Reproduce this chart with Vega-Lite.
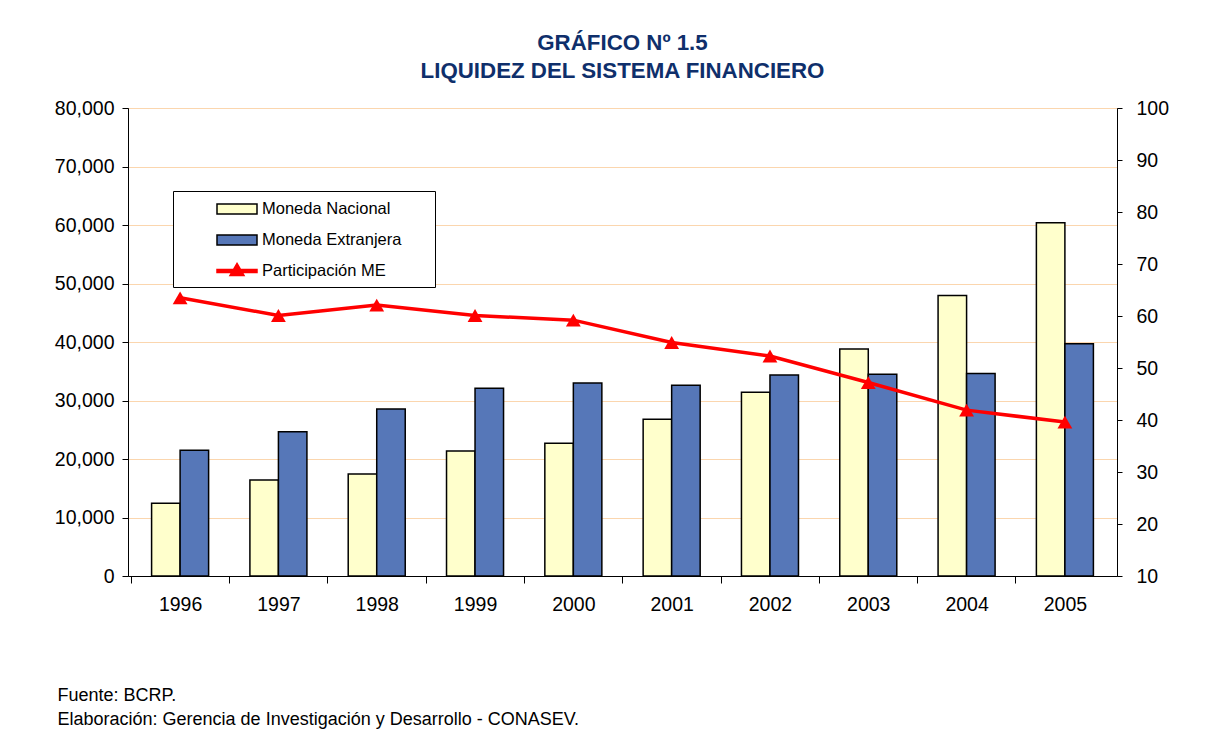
{
  "$schema": "https://vega.github.io/schema/vega-lite/v6.json",
  "autosize": {"type": "none"},
  "width": 989,
  "height": 468,
  "padding": {"left": 128, "top": 108, "right": 93, "bottom": 164},
  "background": "white",
  "config": {
    "font": "Liberation Sans",
    "view": {"stroke": "#333333", "strokeWidth": 1},
    "axis": {"labelFont": "Liberation Sans", "labelColor": "black", "domainColor": "black", "tickColor": "black", "labelFontSize": 19.5},
    "legend": {"orient": "none", "legendX": 45, "legendY": 83, "padding": 7, "rowPadding": 11, "symbolSize": 400, "symbolOffset": 46, "labelOffset": 14, "labelFont": "Liberation Sans", "labelFontSize": 16.5, "labelColor": "black", "labelLimit": 400, "strokeColor": "black", "fillColor": "white", "symbolStrokeWidth": 1.5, "symbolOpacity": 1, "titleOrient": "right", "titleFontSize": 16.5, "titlePadding": 27}
  },
  "title": {
    "text": ["GRÁFICO Nº 1.5", "LIQUIDEZ DEL SISTEMA FINANCIERO"],
    "font": "Liberation Sans",
    "fontSize": 22.3,
    "fontWeight": "bold",
    "color": "#0F2F6B",
    "lineHeight": 28,
    "anchor": "middle",
    "frame": "group",
    "baseline": "bottom",
    "offset": -7
  },
  "datasets": {
    "bars": [
      {"year": "1996", "serie": "Moneda Nacional", "value": 12450},
      {"year": "1996", "serie": "Moneda Extranjera", "value": 21500},
      {"year": "1997", "serie": "Moneda Nacional", "value": 16400},
      {"year": "1997", "serie": "Moneda Extranjera", "value": 24650},
      {"year": "1998", "serie": "Moneda Nacional", "value": 17450},
      {"year": "1998", "serie": "Moneda Extranjera", "value": 28550},
      {"year": "1999", "serie": "Moneda Nacional", "value": 21350},
      {"year": "1999", "serie": "Moneda Extranjera", "value": 32100},
      {"year": "2000", "serie": "Moneda Nacional", "value": 22700},
      {"year": "2000", "serie": "Moneda Extranjera", "value": 33000},
      {"year": "2001", "serie": "Moneda Nacional", "value": 26800},
      {"year": "2001", "serie": "Moneda Extranjera", "value": 32600},
      {"year": "2002", "serie": "Moneda Nacional", "value": 31400},
      {"year": "2002", "serie": "Moneda Extranjera", "value": 34350},
      {"year": "2003", "serie": "Moneda Nacional", "value": 38800},
      {"year": "2003", "serie": "Moneda Extranjera", "value": 34500},
      {"year": "2004", "serie": "Moneda Nacional", "value": 47950},
      {"year": "2004", "serie": "Moneda Extranjera", "value": 34600},
      {"year": "2005", "serie": "Moneda Nacional", "value": 60400},
      {"year": "2005", "serie": "Moneda Extranjera", "value": 39700}
    ],
    "share": [
      {"year": "1996", "pct": 63.5},
      {"year": "1997", "pct": 60.1},
      {"year": "1998", "pct": 62.1},
      {"year": "1999", "pct": 60.1},
      {"year": "2000", "pct": 59.2},
      {"year": "2001", "pct": 54.9},
      {"year": "2002", "pct": 52.3},
      {"year": "2003", "pct": 47.2},
      {"year": "2004", "pct": 41.9},
      {"year": "2005", "pct": 39.6}
    ]
  },
  "encoding": {
    "x": {
      "field": "year",
      "type": "nominal",
      "scale": {"paddingInner": 0.42, "paddingOuter": 0.24},
      "axis": {
        "labelAngle": 0,
        "tickSize": 7,
        "labelPadding": 12,
        "tickOffset": -49.45,
        "labelOffset": 49.45,
        "grid": false,
        "title": ["Fuente: BCRP.", "Elaboración: Gerencia de Investigación y Desarrollo - CONASEV."],
        "titleFont": "Liberation Sans",
        "titleFontSize": 18,
        "titleFontWeight": "normal",
        "titleColor": "black",
        "titleAnchor": "start",
        "titleAlign": "left",
        "titleBaseline": "alphabetic",
        "titleX": -71,
        "titleY": 124,
        "titleLineHeight": 24
      }
    }
  },
  "layer": [
    {
      "data": {"name": "bars"},
      "transform": [{"filter": "false"}],
      "mark": {"type": "point", "filled": true, "opacity": 1},
      "encoding": {
        "color": {
          "field": "serie",
          "type": "nominal",
          "scale": {"domain": ["Moneda Nacional", "Moneda Extranjera", "Participación ME"], "range": ["#FFFFCC", "#5677B8", "#FF0000"]},
          "legend": {"title": "\u00a0"}
        },
        "shape": {
          "field": "serie",
          "type": "nominal",
          "scale": {"domain": ["Moneda Nacional", "Moneda Extranjera", "Participación ME"], "range": ["M-2,-0.5H2V0.5H-2Z", "M-2,-0.5H2V0.5H-2Z", "M-2,-0.15H2V0.15H-2Z M0,-0.75L0.7,0.45H-0.7Z"]},
          "legend": {"title": "\u00a0"}
        },
        "stroke": {
          "field": "serie",
          "type": "nominal",
          "scale": {"domain": ["Moneda Nacional", "Moneda Extranjera", "Participación ME"], "range": ["black", "black", "#FF0000"]},
          "legend": {"title": "\u00a0"}
        }
      }
    },
    {
      "data": {"name": "bars"},
      "mark": {"type": "bar", "stroke": "black", "strokeWidth": 1.5, "opacity": 1},
      "encoding": {
        "xOffset": {"field": "serie", "type": "nominal", "scale": {"domain": ["Moneda Nacional", "Moneda Extranjera"], "paddingInner": 0, "paddingOuter": 0}},
        "y": {
          "field": "value",
          "type": "quantitative",
          "scale": {"domain": [0, 80000], "nice": false},
          "axis": {"values": [0, 10000, 20000, 30000, 40000, 50000, 60000, 70000, 80000], "format": ",.0f", "title": null, "tickSize": 6, "labelPadding": 8, "grid": true, "gridColor": "#FBD6AE", "gridWidth": 1}
        },
        "color": {
          "field": "serie",
          "type": "nominal",
          "legend": {"title": "\u00a0"}
        }
      }
    },
    {
      "data": {"name": "share"},
      "mark": {"type": "line", "color": "#FF0000", "strokeWidth": 3.5, "point": {"shape": "triangle-up", "filled": true, "size": 220, "opacity": 1, "color": "#FF0000"}},
      "encoding": {
        "y": {
          "field": "pct",
          "type": "quantitative",
          "scale": {"domain": [10, 100], "nice": false},
          "axis": {"orient": "right", "values": [10, 20, 30, 40, 50, 60, 70, 80, 90, 100], "title": null, "tickSize": 5, "labelPadding": 14, "grid": false}
        }
      }
    }
  ],
  "resolve": {"scale": {"y": "independent"}}
}
